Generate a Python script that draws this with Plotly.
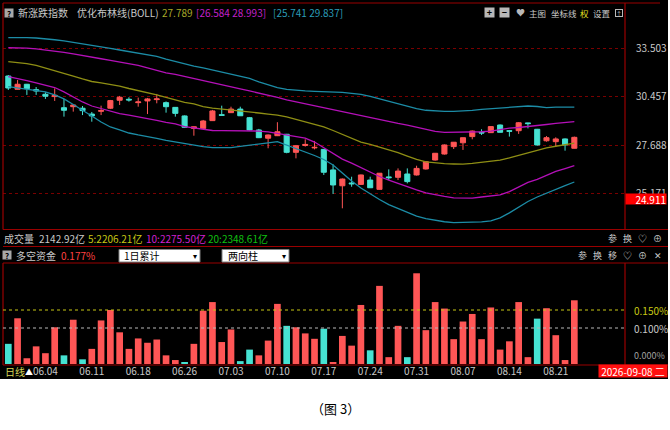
import math
import plotly.graph_objects as go

# ---------------- data ----------------
dates = ["05.29","06.01","06.02","06.03","06.04","06.05","06.08","06.09","06.10","06.11",
         "06.12","06.15","06.16","06.17","06.18","06.22","06.23","06.24","06.25","06.26",
         "06.29","06.30","07.01","07.02","07.03","07.06","07.07","07.08","07.09","07.10",
         "07.13","07.14","07.15","07.16","07.17","07.20","07.21","07.22","07.23","07.24",
         "07.27","07.28","07.29","07.30","07.31","08.03","08.04","08.05","08.06","08.07",
         "08.10","08.11","08.12","08.13","08.14","08.17","08.18","08.19","08.20","08.21",
         "08.24","08.25"]
date_ticks = ["06.04","06.11","06.18","06.26","07.03","07.10","07.17","07.24","07.31",
              "08.07","08.14","08.21"]

opens = [31.72,30.90,31.21,30.88,30.60,30.46,29.80,29.86,29.77,29.43,
         29.59,29.77,30.24,30.30,30.10,30.20,30.28,30.10,29.82,29.32,
         28.61,28.61,29.05,29.39,29.51,29.72,29.22,28.52,28.06,28.20,
         28.28,27.29,27.66,27.53,27.45,26.36,25.55,25.69,25.62,25.84,
         25.37,26.00,25.98,26.15,26.10,26.41,26.88,27.20,27.60,27.81,
         28.15,28.39,28.37,28.80,28.48,28.48,28.92,28.56,27.92,27.87,
         28.02,27.51]
highs = [31.78,31.47,31.23,31.04,30.72,30.96,30.32,29.99,29.90,29.55,
         29.92,30.26,30.50,30.42,30.40,30.38,30.62,30.17,29.84,29.35,
         28.72,29.09,29.67,29.92,29.86,29.86,29.26,28.58,28.27,28.96,
         28.30,27.69,28.00,27.91,27.47,26.65,25.92,26.01,26.12,26.01,
         26.20,26.39,26.44,26.44,26.58,26.83,27.25,27.72,27.85,28.10,
         28.49,28.56,28.72,28.83,28.52,28.97,28.93,28.58,28.18,28.11,
         28.05,28.15]
lows = [30.86,30.89,30.56,30.56,30.32,30.20,29.28,29.57,29.37,28.99,
        29.37,29.72,29.96,30.16,29.86,29.43,30.06,29.51,29.28,28.63,
        28.20,28.58,29.03,29.33,29.49,29.32,28.49,28.07,27.51,28.18,
        27.24,26.97,27.60,27.45,26.10,25.14,24.44,25.50,25.59,25.44,
        25.36,25.84,25.84,25.67,26.07,26.38,26.85,27.17,27.47,27.42,
        28.00,28.24,28.35,28.38,28.15,28.30,28.61,27.66,27.87,27.60,
        27.38,27.50]
closes = [30.98,31.21,30.94,30.80,30.48,30.54,29.65,29.96,29.63,29.32,
          29.63,30.22,30.42,30.26,30.14,30.32,30.32,29.86,29.47,28.67,
          28.70,29.03,29.61,29.36,29.72,29.33,28.52,28.09,28.24,28.42,
          27.29,27.65,27.72,27.56,26.24,25.59,25.89,25.65,26.10,25.45,
          26.19,25.96,26.30,25.76,26.44,26.79,27.24,27.69,27.84,28.09,
          28.46,28.35,28.71,28.39,28.45,28.93,28.88,27.69,28.09,28.02,
          27.69,28.11]

boll_outer_up = [34.21,34.23,34.22,34.19,34.14,34.07,33.99,33.90,33.80,33.71,
                 33.61,33.50,33.39,33.29,33.17,33.08,32.97,32.80,32.64,32.48,
                 32.35,32.23,32.10,31.97,31.85,31.72,31.57,31.35,31.16,31.00,
                 30.90,30.84,30.80,30.77,30.76,30.76,30.71,30.65,30.59,30.47,
                 30.32,30.17,30.02,29.87,29.75,29.65,29.61,29.59,29.59,29.61,
                 29.64,29.70,29.74,29.78,29.84,29.87,29.90,29.87,29.80,29.83,
                 29.84,29.837]
boll_inner_up = [33.54,33.54,33.52,33.46,33.39,33.31,33.23,33.13,33.01,32.90,
                 32.82,32.71,32.61,32.49,32.39,32.23,32.07,31.92,31.82,31.69,
                 31.54,31.41,31.26,31.13,31.01,30.92,30.80,30.68,30.53,30.41,
                 30.26,30.14,30.02,29.90,29.78,29.68,29.58,29.46,29.35,29.23,
                 29.12,29.00,28.89,28.80,28.69,28.55,28.44,28.39,28.39,28.39,
                 28.41,28.42,28.46,28.55,28.62,28.66,28.73,28.77,28.83,28.89,
                 28.93,28.993]
boll_mid = [32.63,32.58,32.51,32.39,32.23,32.07,31.91,31.72,31.54,31.38,
            31.29,31.20,31.10,30.95,30.83,30.71,30.56,30.41,30.26,30.11,
            30.02,29.87,29.78,29.73,29.65,29.59,29.55,29.49,29.43,29.37,
            29.26,29.12,28.97,28.86,28.69,28.49,28.27,28.05,27.85,27.72,
            27.58,27.44,27.28,27.09,26.91,26.78,26.72,26.69,26.67,26.66,
            26.70,26.76,26.80,26.87,26.99,27.12,27.28,27.42,27.53,27.62,
            27.70,27.789]
boll_inner_dn = [31.68,31.57,31.44,31.29,31.16,31.01,30.74,30.44,30.14,29.90,
                 29.75,29.58,29.46,29.37,29.28,29.17,29.06,28.95,28.86,28.71,
                 28.63,28.55,28.49,28.48,28.48,28.48,28.49,28.46,28.41,28.32,
                 28.24,28.16,28.07,27.85,27.55,27.23,26.93,26.72,26.49,26.25,
                 26.02,25.84,25.66,25.49,25.34,25.19,25.09,25.02,24.95,24.93,
                 24.94,24.99,25.04,25.09,25.26,25.49,25.72,25.87,26.07,26.28,
                 26.43,26.584]
boll_outer_dn = [31.06,30.98,30.92,30.86,30.74,30.56,30.32,29.99,29.67,29.32,
                 28.97,28.69,28.52,28.35,28.24,28.16,28.05,27.94,27.85,27.74,
                 27.66,27.60,27.55,27.53,27.55,27.61,27.66,27.72,27.80,27.87,
                 27.69,27.50,27.31,27.12,26.91,26.62,26.20,25.79,25.44,25.14,
                 24.87,24.62,24.43,24.26,24.07,23.95,23.86,23.80,23.76,23.76,
                 23.77,23.79,23.84,23.98,24.22,24.48,24.77,24.99,25.19,25.36,
                 25.56,25.741]

flow_pct = [0.056,0.127,0.016,0.049,0.030,0.102,0.024,0.123,0.013,0.042,
            0.121,0.150,0.088,0.042,0.071,0.059,0.068,0.024,0.011,0.005,
            0.056,0.148,0.172,0.061,0.096,0.008,0.040,0.024,0.065,0.167,
            0.106,0.102,0.085,0.070,0.098,0.003,0.078,0.051,0.164,0.038,
            0.217,0.019,0.106,0.019,0.252,0.094,0.172,0.154,0.069,0.118,
            0.139,0.069,0.157,0.040,0.063,0.172,0.019,0.126,0.155,0.080,
            0.011,0.177]
flow_side = ["dn","up","up","up","up","up","dn","up","dn","up",
             "up","up","up","up","up","up","up","up","up","dn",
             "up","up","up","up","up","dn","dn","up","up","up",
             "dn","up","up","up","dn","up","up","up","up","dn",
             "up","up","up","dn","up","up","up","up","up","up",
             "up","up","up","up","up","up","up","dn","up","up",
             "up","up"]

price_ticks = [25.171, 27.688, 30.457, 33.503]
marker_price = 24.911
flow_ticks = [0.15, 0.10, 0.0]

# ---------------- style ----------------
W, H = 670, 430
FONT = "Noto Sans CJK SC, DejaVu Sans"
RED = "#ff5656"
CYAN = "#46e2d2"
GREY = "#c8c8c8"
FRAME = "#9a0000"
TEAL = "#1c8ca6"
MAG = "#b410b8"
OLIVE = "#8e8e14"


def px(x):
    return x / W


def py(y):
    return 1 - y / H


fig = go.Figure()

fig.add_trace(go.Candlestick(
    x=dates, open=opens, high=highs, low=lows, close=closes,
    increasing=dict(line=dict(color=RED, width=1), fillcolor=RED),
    decreasing=dict(line=dict(color=CYAN, width=1), fillcolor=CYAN),
    xaxis="x", yaxis="y", showlegend=False, hoverinfo="skip"))

for arr, col in [(boll_outer_up, TEAL), (boll_inner_up, MAG), (boll_mid, OLIVE),
                 (boll_inner_dn, MAG), (boll_outer_dn, TEAL)]:
    fig.add_trace(go.Scatter(x=dates, y=arr, mode="lines",
                             line=dict(color=col, width=1.3),
                             xaxis="x", yaxis="y", showlegend=False, hoverinfo="skip"))

fig.add_trace(go.Bar(x=dates, y=flow_pct,
                     marker=dict(color=[RED if s == "up" else CYAN for s in flow_side],
                                 line=dict(width=0)),
                     width=0.72, xaxis="x2", yaxis="y2", showlegend=False, hoverinfo="skip"))

XR = [-0.571, 66.46]
fig.update_layout(
    width=W, height=H, autosize=False,
    margin=dict(l=0, r=0, t=0, b=0),
    paper_bgcolor="white", plot_bgcolor="black",
    showlegend=False, boxgap=0.22,
    font=dict(family=FONT, size=10, color=GREY),
    xaxis=dict(domain=[px(3), px(625)], range=XR, type="category",
               showgrid=False, zeroline=False, showticklabels=False,
               rangeslider=dict(visible=False), anchor="y", fixedrange=True),
    yaxis=dict(domain=[py(229), py(20)], type="log", range=[1.37038, 1.5493],
               side="right", anchor="x", tickvals=price_ticks,
               ticktext=[f"{v:.3f}" for v in price_ticks],
               tickfont=dict(family=FONT, size=10, color=GREY), ticks="",
               ticklabelstandoff=10,
               showgrid=True, gridcolor="#7a0000", griddash="dot", gridwidth=1,
               zeroline=False, showline=False, fixedrange=True),
    xaxis2=dict(domain=[px(3), px(625)], range=XR, type="category", anchor="y2",
                tickvals=date_ticks, ticktext=date_ticks, ticks="",
                tickfont=dict(family=FONT, size=10, color=GREY),
                showgrid=False, zeroline=False, fixedrange=True),
    yaxis2=dict(domain=[py(364), py(264)], range=[0, 0.27778], anchor="x2",
                showticklabels=False, showgrid=False, zeroline=False, fixedrange=True),
)

shapes = []
# dark panel
shapes.append(dict(type="rect", xref="paper", yref="paper", x0=0, x1=px(668),
                   y0=py(379), y1=py(0), fillcolor="black", line=dict(width=0), layer="below"))


def hline(y, x0, x1, col=FRAME):
    shapes.append(dict(type="line", xref="paper", yref="paper", x0=px(x0), x1=px(x1),
                       y0=py(y), y1=py(y), line=dict(color=col, width=1.2)))


def vline(x, y0, y1, col=FRAME):
    shapes.append(dict(type="line", xref="paper", yref="paper", x0=px(x), x1=px(x),
                       y0=py(y0), y1=py(y1), line=dict(color=col, width=1.2)))


hline(3, 3, 660)
hline(229.5, 3, 668)
hline(246.5, 3, 668)
hline(263, 3, 668)
hline(365, 3, 668)
vline(3, 3, 229.5)
vline(3, 263, 365)
vline(625, 3, 229.5)
vline(625, 263, 365)

# flow gridlines
for v, col in [(0.15, "#c8c814"), (0.10, "#b8b8b8")]:
    shapes.append(dict(type="line", xref="paper", yref="y2", x0=px(3), x1=px(625),
                       y0=v, y1=v, line=dict(color=col, width=1, dash="dot")))

# dropdown boxes
for x0, x1 in [(119, 200), (222, 289)]:
    shapes.append(dict(type="rect", xref="paper", yref="paper", x0=px(x0), x1=px(x1),
                       y0=py(262), y1=py(249.5), fillcolor="white",
                       line=dict(color="#808080", width=1)))
fig.update_layout(shapes=shapes)


def T(x, y, s, color=GREY, size=10, anchor="left", **kw):
    fig.add_annotation(x=px(x), y=py(y), xref="paper", yref="paper", text=s,
                       showarrow=False, xanchor=anchor, yanchor="middle",
                       font=dict(family=FONT, size=size, color=color), **kw)


# title row
T(8.5, 13, "<b>?</b>", color="black", size=8, anchor="center", bgcolor="#a8a8a8",
  width=8, height=8, borderpad=0)
T(16, 13, "新涨跌指数", size=10)
T(75, 13, "优化布林线(BOLL)", size=10)
T(160, 13, "27.789", color="#a8a828", size=10)
T(194, 13, "[26.584 28.993]", color="#c020c8", size=10)
T(271, 13, "[25.741 29.837]", color="#2a9cb8", size=10)
T(489, 13, "<b>+</b>", color="black", size=9, anchor="center", bgcolor="#b8b8b8",
  width=9, height=9, borderpad=0)
T(505, 13, "<b>−</b>", color="black", size=9, anchor="center", bgcolor="#b8b8b8",
  width=9, height=9, borderpad=0)
T(520, 13, "♥", color="#b8b8b8", size=9, anchor="center")
T(527, 13, "主图", size=8.5)
T(549, 13, "坐标线", size=8.5)
T(578, 13, "权", color="#e0e020", size=8.5)
T(591, 13, "设置", size=8.5)
T(618.5, 13, "↑", color="#b8b8b8", size=6, anchor="center", bordercolor="#b8b8b8",
  borderwidth=1, width=6, height=6, borderpad=0)

# price marker box (log axis: annotation position in log10 units)
fig.add_annotation(x=px(625), y=math.log10(marker_price), xref="paper", yref="y",
                   text=f"{marker_price:.3f}", showarrow=False, xanchor="left",
                   yanchor="middle", align="right", bgcolor="#ff0000",
                   width=40, height=10, borderpad=0,
                   font=dict(family=FONT, size=10, color="white"))

# volume row
T(2, 238, "成交量", size=10)
T(37, 238, "2142.92亿", size=10)
T(86, 238, "5:2206.21亿", color="#c8c814", size=10)
T(144, 238, "10:2275.50亿", color="#d020d0", size=10)
T(206, 238, "20:2348.61亿", color="#10c010", size=10)
for x, s in [(612, "参"), (627, "换"), (642, "♡"), (657, "⊕")]:
    T(x, 238, s, size=9, anchor="center")

# flow row
T(6.5, 255, "<b>?</b>", color="black", size=8, anchor="center", bgcolor="#a8a8a8",
  width=8, height=8, borderpad=0)
T(14, 255, "多空资金", size=10)
T(59, 255, "0.177%", color="#ff4040", size=10)
T(122, 255.5, "1日累计", color="black", size=10)
T(195, 255.5, "▾", color="black", size=8, anchor="center")
T(226, 255.5, "两向柱", color="black", size=10)
T(284, 255.5, "▾", color="black", size=8, anchor="center")
for x, s in [(582, "参"), (597, "换"), (612, "移"), (627, "♡"), (642, "⊕"), (658, "✕")]:
    T(x, 255, s, size=9, anchor="center")

# flow axis labels
for v, col in [(0.15, "#c8c814"), (0.10, GREY)]:
    fig.add_annotation(x=px(632), y=v, xref="paper", yref="y2", text=f"{v:.3f}%",
                       showarrow=False, xanchor="left", yanchor="middle",
                       font=dict(family=FONT, size=10, color=col))
fig.add_annotation(x=px(632), y=0.0, xref="paper", yref="y2", text="0.000%",
                   showarrow=False, xanchor="left", yanchor="bottom",
                   font=dict(family=FONT, size=9, color="#a0a0a0"))

# date row
T(3, 371, "日线", color="#d8d858", size=10)
T(28.5, 371, "▲", color="white", size=8, anchor="center")
T(598, 371, "2026-09-08 二", color="white", size=10, bgcolor="#ff1010",
  width=68, height=12, borderpad=0)

# caption
T(335, 408, "（图 3）", color="black", size=13, anchor="center")

fig.write_html("out.html", config={"displayModeBar": False},
               post_script="document.body.style.margin='0';document.body.style.overflow='hidden';")
